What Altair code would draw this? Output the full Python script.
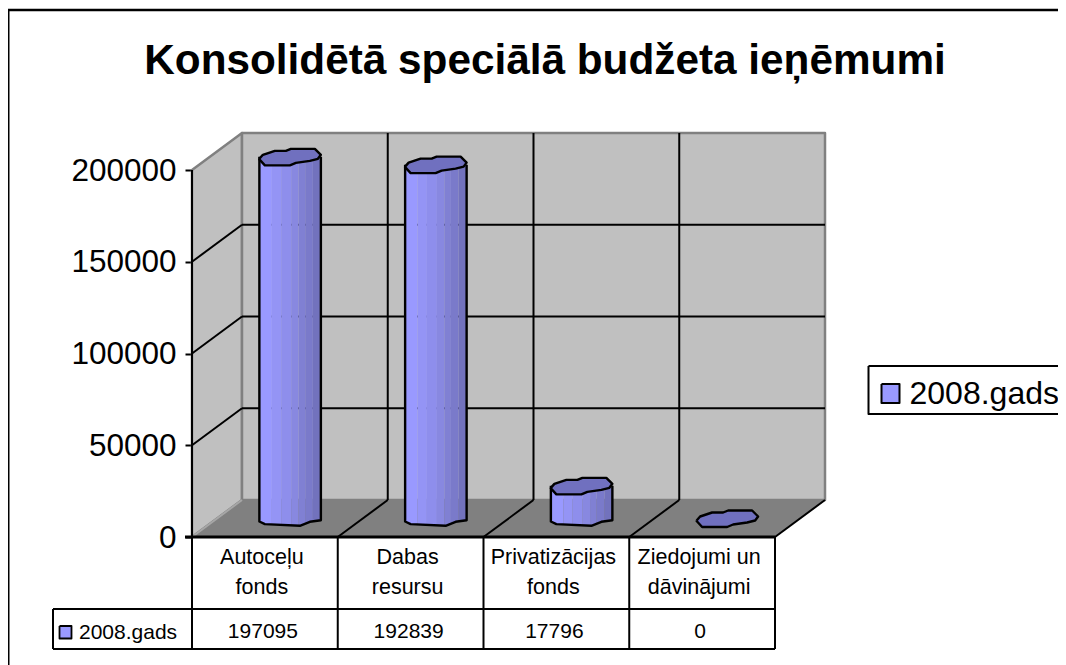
import altair as alt
import numpy as np
import pandas as pd

TITLE = "Konsolidētā speciālā budžeta ieņēmumi"
SERIES = "2008.gads"
categories = ["Autoceļu\nfonds", "Dabas\nresursu", "Privatizācijas\nfonds", "Ziedojumi un\ndāvinājumi"]
values = [197095, 192839, 17796, 0]
y_ticks = [0, 50000, 100000, 150000, 200000]

FONT = "Liberation Sans"
W, H = 1050, 657
CW = 145.75            # px per category
PY = 0.001835          # px per value unit
X0, Y0 = 192, 537      # front-left floor corner on the page
DX, DY = 50, 37        # depth offset in px


def X(p):
    return (p - X0) / CW


def Y(p):
    return (Y0 - p) / PY


def pos(cat, depth, val):
    """Project (category position, depth 0..1, value) to chart scales."""
    return (cat + depth * DX / CW, val + depth * DY / PY)


xs = alt.Scale(domain=[X(8), X(8 + W)], nice=False, zero=False)
ys = alt.Scale(domain=[Y(8 + H), Y(8)], nice=False, zero=False)
NC = len(categories)
YMAX = y_ticks[-1]


def xe(f="x"):
    return alt.X(f"{f}:Q", scale=xs, axis=None)


def ye(f="y"):
    return alt.Y(f"{f}:Q", scale=ys, axis=None)


def poly(pts, fill=None, stroke="black", sw=2.4, close=True):
    pts = list(pts)
    if close:
        pts = pts + [pts[0]]
    df = pd.DataFrame(pts, columns=["x", "y"])
    df["i"] = range(len(df))
    kw = dict(stroke=stroke, strokeWidth=sw, strokeJoin="round")
    if fill:
        kw["fill"] = fill
    return alt.Chart(df).mark_line(**kw).encode(x=xe(), y=ye(), order=alt.Order("i:Q"))


def rules(segs, color="black", sw=2.0):
    df = pd.DataFrame(
        [(a[0], a[1], b[0], b[1]) for a, b in segs], columns=["x", "y", "x2", "y2"]
    )
    return (
        alt.Chart(df)
        .mark_rule(color=color, strokeWidth=sw)
        .encode(x=xe(), y=ye(), x2="x2:Q", y2="y2:Q")
    )


def label(df, size, align="center", weight="normal", **kw):
    return alt.Chart(pd.DataFrame(df)).mark_text(
        font=FONT, fontSize=size, align=align, baseline="alphabetic",
        color="black", fontWeight=weight, **kw
    ).encode(x=xe(), y=ye(), text="t:N")


layers = []

# y axis (real axis, moved onto the chart's front-left edge)
axis_layer = (
    alt.Chart(pd.DataFrame({"y": y_ticks, "x": [0] * len(y_ticks)}))
    .mark_point(opacity=0)
    .encode(
        x=xe(),
        y=alt.Y(
            "y:Q",
            scale=ys,
            axis=alt.Axis(
                values=y_ticks, title=None, grid=False, domain=False, offset=-(X0 - 8),
                labelFont=FONT, labelFontSize=31.5, labelColor="black", labelPadding=9,
                tickColor="black", tickWidth=2, tickSize=7, format="d", labelFlush=False,
                labelOverlap=False, labelOffset=1,
            ),
        ),
    )
)
layers.append(axis_layer)

# outer frame (top and left only)
layers.append(rules([((X(8), Y(10)), (X(8 + W), Y(10)))], sw=2.5))
layers.append(rules([((X(8.5), Y(10)), (X(8.5), Y(8 + H)))], sw=2))

# walls and floor
WALL, EDGE, FLOOR = "#c0c0c0", "#808080", "#808080"
layers.append(poly([pos(0, 0, 0), pos(0, 0, YMAX), pos(0, 1, YMAX), pos(0, 1, 0)], fill=WALL, stroke=EDGE, sw=2.5))
layers.append(poly([pos(0, 1, 0), pos(0, 1, YMAX), pos(NC, 1, YMAX), pos(NC, 1, 0)], fill=WALL, stroke=EDGE, sw=2.5))
layers.append(poly([pos(0, 0, 0), pos(0, 1, 0), pos(NC, 1, 0), pos(NC, 0, 0)], fill=FLOOR, stroke=EDGE, sw=1))

# gridlines
grid = []
for v in y_ticks[1:-1]:
    grid.append((pos(0, 0, v), pos(0, 1, v)))
    grid.append((pos(0, 1, v), pos(NC, 1, v)))
for c in range(1, NC):
    grid.append((pos(c, 1, 0), pos(c, 1, YMAX)))
for c in range(1, NC + 1):
    grid.append((pos(c, 0, 0), pos(c, 1, 0)))
layers.append(rules(grid))
layers.append(rules([(pos(0, 0, 0), pos(0, 1, 0))], color="#a6a6a6", sw=2))
layers.append(rules([(pos(0, 0, 0), pos(0, 0, YMAX))]))

# cylinders
cap_off = [(-30.5, 2), (-27, -2), (-15, -6), (-4, -6), (1, -8), (25, -8), (31, -2), (28, 2),
           (20, 4), (6, 6), (0, 8.5), (-25, 8.5), (-30.5, 2.5)]
foot_off = [(-30.5, 3), (-25, 5.6), (10, 7.3), (20, 3.3), (31, 1.7)]
band_edges = [-30.5, -18, -8.7, 1.3, 8.7, 15.3, 23, 31]
band_cols = ["#9999ff", "#9494f5", "#8e8eec", "#8888e0", "#8080d3", "#7a7aca", "#7272bd"]
CAP = "#7070bf"
fx, fy = zip(*foot_off)

for i, v in enumerate(values):
    cx, cy0 = pos(i + 0.5, 0.5, 0)
    cy1 = cy0 + v
    if v > 0:
        rows = []
        for b, col in enumerate(band_cols):
            l, r = band_edges[b], band_edges[b + 1]
            xsb = [l] + [q for q in fx if l < q < r] + [r]
            for q in xsb:
                rows.append(dict(x=cx + q / CW, y=cy1, y2=cy0 - float(np.interp(q, fx, fy)) / PY, b=b, c=col))
        layers.append(
            alt.Chart(pd.DataFrame(rows))
            .mark_area(strokeWidth=0, interpolate="linear")
            .encode(x=xe(), y=ye(), y2="y2:Q", detail="b:N", color=alt.Color("c:N", scale=None, legend=None))
        )
        outline = [(cx + fx[0] / CW, cy1)] + [(cx + a / CW, cy0 - b / PY) for a, b in foot_off] + [(cx + fx[-1] / CW, cy1)]
        layers.append(poly(outline, close=False))
    layers.append(poly([(cx + a / CW, cy1 - b / PY) for a, b in cap_off], fill=CAP))

# data table
tl = [((X(53), Y(609)), (X(775), Y(609))), ((X(53), Y(649)), (X(775), Y(649))),
      ((X(53), Y(609)), (X(53), Y(649)))]
for c in range(NC + 1):
    tl.append(((float(c), Y(Y0)), (float(c), Y(649))))
layers.append(rules(tl))
layers.append(rules([((X(185), Y(Y0)), pos(NC, 0, 0))], sw=3))

layers.append(label({"x": [i + 0.5 for i in range(NC)], "y": [Y(564)] * NC, "t": categories}, 21.5, lineBreak="\n", lineHeight=30, dx=-3))
layers.append(label({"x": [i + 0.5 for i in range(NC)], "y": [Y(638)] * NC, "t": [str(v) for v in values]}, 21, dx=-2))
layers.append(poly([(X(59.5), Y(626)), (X(71.5), Y(626)), (X(71.5), Y(638.5)), (X(59.5), Y(638.5))], fill="#9999ff", sw=1.8))
layers.append(label({"x": [X(79)], "y": [Y(639)], "t": [SERIES]}, 21, align="left"))

# legend
layers.append(poly([(X(868.5), Y(366)), (X(8 + W + 5), Y(366)), (X(8 + W + 5), Y(414)), (X(868.5), Y(414))], fill="white", sw=2))
layers.append(poly([(X(881.5), Y(384)), (X(899.5), Y(384)), (X(899.5), Y(403)), (X(881.5), Y(403))], fill="#9999ff", sw=2))
layers.append(label({"x": [X(909.5)], "y": [Y(404)], "t": [SERIES]}, 32, align="left"))

chart = (
    alt.layer(*layers)
    .resolve_axis(y="independent")
    .properties(
        width=W,
        height=H,
        padding=0,
        autosize=alt.AutoSizeParams(type="none"),
        background="white",
        title=alt.TitleParams(
            TITLE, font=FONT, fontSize=42.3, fontWeight="bold", color="black",
            anchor="middle", dx=12, dy=44, offset=-64, baseline="alphabetic",
        ),
    )
    .configure_view(stroke=None)
)
chart.save("out.html", embed_options={"renderer": "svg", "actions": False})
